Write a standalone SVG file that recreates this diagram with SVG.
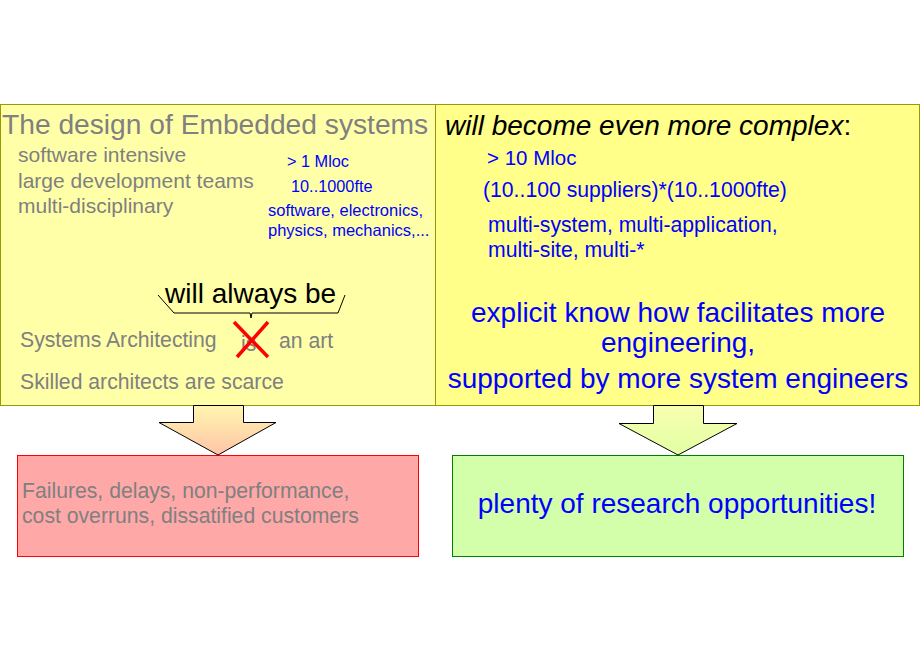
<svg xmlns="http://www.w3.org/2000/svg" width="920" height="660" viewBox="0 0 920 660">
<defs>
<linearGradient id="gL" x1="0" y1="0" x2="0" y2="1"><stop offset="0" stop-color="#fff6ae"/><stop offset="1" stop-color="#ffc4a8"/></linearGradient>
<linearGradient id="gR" x1="0" y1="0" x2="0" y2="1"><stop offset="0" stop-color="#f8ffb0"/><stop offset="1" stop-color="#e2ffa4"/></linearGradient>
</defs>
<style>
text{font-family:"Liberation Sans",Arial,sans-serif}
.g{fill:#808080}
.b{fill:#0000ff}
.k{fill:#000}
.arrow{stroke:#000;stroke-width:1}
</style>
<rect width="920" height="660" fill="#fff"/>
<g id="left-box">
<rect x="0.5" y="104.5" width="435" height="301" fill="#ffffa8" stroke="#999900" stroke-width="1"/>
<text x="2" y="134" font-size="28.2" class="g">The design of Embedded systems</text>
<text x="18" y="162" font-size="21" class="g">software intensive</text>
<text x="18" y="188" font-size="21" class="g">large development teams</text>
<text x="18" y="213" font-size="21" class="g">multi-disciplinary</text>
<text x="287" y="167" font-size="16.3" class="b">&gt; 1 Mloc</text>
<text x="291" y="192" font-size="16.3" class="b">10..1000fte</text>
<text x="268" y="216" font-size="16.5" class="b">software, electronics,</text>
<text x="268" y="236" font-size="16.5" class="b">physics, mechanics,...</text>
<text x="165" y="303" font-size="28" class="k">will always be</text>
<text x="20" y="347" font-size="21.2" class="g">Systems Architecting</text>
<text x="241" y="351" font-size="21.2" class="g">is</text>
<text x="279" y="348" font-size="21.2" class="g">an art</text>
<path d="M234 322 L268 357 M268 322 L237 357" stroke="#ff0000" stroke-width="3.5" fill="none"/>
<text x="20" y="389" font-size="21.2" class="g">Skilled architects are scarce</text>
</g>
<g id="right-box">
<rect x="435.5" y="104.5" width="484" height="301" fill="#ffff8a" stroke="#999900" stroke-width="1"/>
<text x="445" y="135" font-size="28" font-style="italic" class="k">will become even more complex<tspan font-style="normal">:</tspan></text>
<text x="487" y="165" font-size="20.5" class="b">&gt; 10 Mloc</text>
<text x="483" y="197" font-size="21.2" class="b">(10..100 suppliers)*(10..1000fte)</text>
<text x="488" y="232" font-size="21.2" class="b">multi-system, multi-application,</text>
<text x="488" y="257" font-size="21.2" class="b">multi-site, multi-*</text>
<text x="678" y="322" font-size="28" class="b" text-anchor="middle">explicit know how facilitates more</text>
<text x="678" y="352" font-size="28" class="b" text-anchor="middle">engineering,</text>
<text x="678" y="388" font-size="28" class="b" text-anchor="middle">supported by more system engineers</text>
</g>
<g id="failures">
<rect x="17.5" y="455.5" width="401" height="101" fill="#ffa8a8" stroke="#ff0000" stroke-width="1"/>
<text x="22" y="498" font-size="21.2" class="g">Failures, delays, non-performance,</text>
<text x="22" y="523" font-size="21.2" class="g">cost overruns, dissatified customers</text>
</g>
<g id="opportunities">
<rect x="452.5" y="455.5" width="451" height="101" fill="#d4ffaa" stroke="#008000" stroke-width="1"/>
<text x="677" y="513" font-size="28" class="b" text-anchor="middle">plenty of research opportunities!</text>
</g>
<g id="connectors">
<path d="M158 295 L174 313 L250 313 L251 318 L252 313 L338 313 L345 295" fill="none" stroke="#000" stroke-width="1"/>
<polygon class="arrow" fill="url(#gL)" points="193.5,405.5 243.5,405.5 243.5,422.5 276,422.5 218,455 159,422.5 193.5,422.5"/>
<polygon class="arrow" fill="url(#gR)" points="653.5,405.5 703.5,405.5 703.5,423.5 737,423.5 678,455 619,423.5 653.5,423.5"/>
</g>
</svg>
